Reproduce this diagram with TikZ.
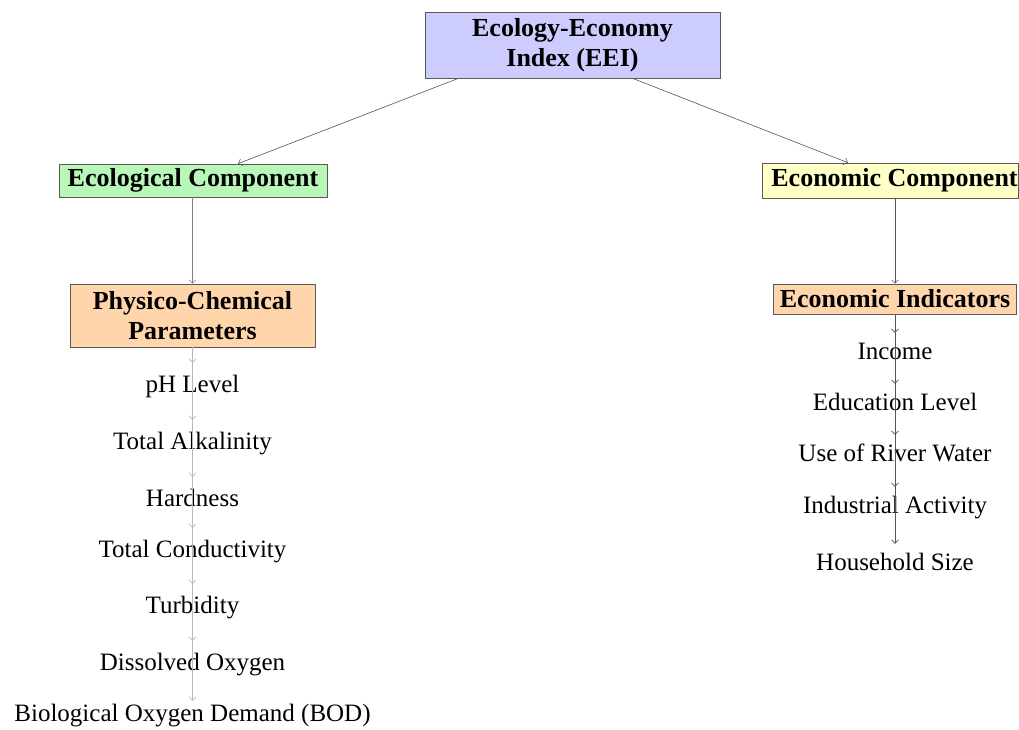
\documentclass[tikz,border=0pt]{standalone}
\usepackage{fontspec}
\setmainfont{Liberation Serif}
\usetikzlibrary{arrows.meta}
\definecolor{topfill}{HTML}{CCCCFF}
\definecolor{greenfill}{HTML}{B8F7B8}
\definecolor{yellowfill}{HTML}{FFFFC6}
\definecolor{peachfill}{HTML}{FFD6AC}
\definecolor{boxline}{HTML}{5A5A5A}
\definecolor{darkline}{HTML}{555555}
\definecolor{lightline}{HTML}{B8B8B8}
\begin{document}
\begin{tikzpicture}[x=1pt,y=-1pt,
  box/.style={draw=boxline,line width=0.6pt,inner sep=0pt,align=center,
    font=\fontsize{26}{30}\selectfont\bfseries},
  itemL/.style={anchor=base,inner xsep=0pt,inner ysep=11pt,text height=18pt,text depth=5pt,
    font=\fontsize{25}{30}\selectfont},
  itemR/.style={anchor=base,inner xsep=0pt,inner ysep=8pt,text height=18pt,text depth=5pt,
    font=\fontsize{25}{30}\selectfont},
  conn/.style={line width=0.6pt,-{Straight Barb[length=3.5pt,width=7pt]}},
]
\useasboundingbox (0,0) rectangle (1019,729);
\begin{scope}
\clip (0,0) rectangle (1019,729);
% boxes
\node[box,fill=topfill,minimum width=295pt,minimum height=66pt] (top) at (572.5,45) {Ecology-Economy\\Index (EEI)};
\node[box,fill=greenfill,minimum width=268pt,minimum height=33pt] (eco) at (193,180.5) {Ecological Component};
\node[box,fill=yellowfill,minimum width=256pt,minimum height=35pt] (econ) at (890,180.5) {\hspace*{9pt}Economic Component};
\node[box,fill=peachfill,minimum width=245pt,minimum height=63pt] (phys) at (192.5,315.5) {Physico-Chemical\\Parameters};
\node[box,fill=peachfill,minimum width=243pt,minimum height=30pt] (ind) at (895,299) {Economic Indicators};
% left items
\node[itemL] (ph)   at (192.5,392) {pH Level};
\node[itemL] (alk)  at (192.5,449) {Total Alkalinity};
\node[itemL] (hard) at (192.5,506) {Hardness};
\node[itemL] (cond) at (192.5,557) {Total Conductivity};
\node[itemL] (turb) at (192.5,613) {Turbidity};
\node[itemL] (dox)  at (192.5,670) {Dissolved Oxygen};
\node[itemL,inner ysep=2pt] (bod)  at (192.5,721) {Biological Oxygen Demand (BOD)};
% right items
\node[itemR] (inc)  at (895,359) {Income};
\node[itemR] (edu)  at (895,410) {Education Level};
\node[itemR] (riv)  at (895,461) {Use of River Water};
\node[itemR] (indu) at (895,513) {Industrial Activity};
\node[itemR] (hh)   at (895,570) {Household Size};
% connectors
\draw[conn,darkline] ([xshift=-114pt]top.south) -- ([xshift=45pt]eco.north);
\draw[conn,darkline] ([xshift=60pt]top.south) -- ([xshift=-42pt]econ.north);
\draw[conn,gray] (eco.south -| phys.north) -- (phys.north);
\draw[conn,darkline] (econ.south -| ind.north) -- (ind.north);
\foreach \t in {ph,alk,hard,cond,turb,dox,bod}
  \draw[conn,lightline] (phys.south) -- (\t.north);
\foreach \t in {inc,edu,riv,indu,hh}
  \draw[conn,darkline] (ind.south) -- (\t.north);
\end{scope}
\end{tikzpicture}
\end{document}
